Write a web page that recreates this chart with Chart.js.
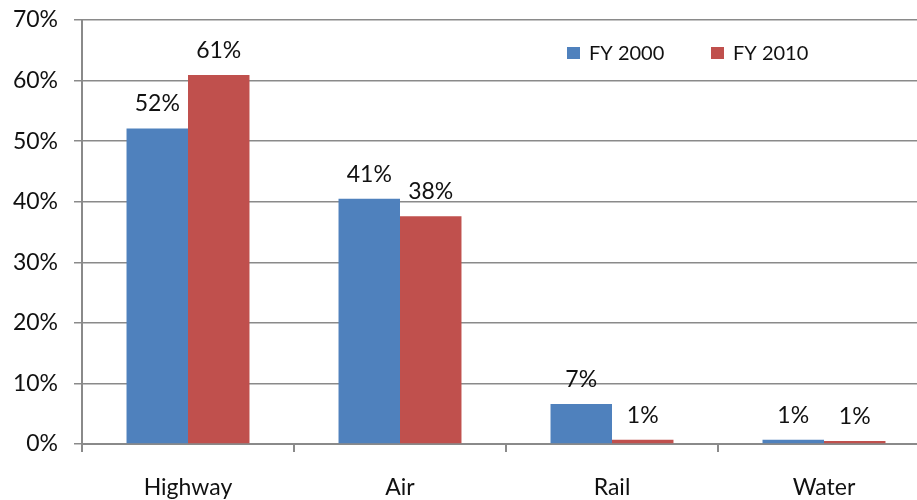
<!DOCTYPE html>
<html>
<head>
<meta charset="utf-8">
<script src="https://cdn.jsdelivr.net/npm/chart.js@4.4.1/dist/chart.umd.min.js"></script>
<style>
  html, body { margin: 0; padding: 0; background: #fff; overflow: hidden; }
  #wrap { width: 930px; height: 500px; position: relative; }
</style>
</head>
<body>
<div id="wrap"><canvas id="c" width="930" height="500"></canvas></div>
<script>
// Share of funding by mode
const categories = ['Highway', 'Air', 'Rail', 'Water'];
const seriesNames = ['FY 2000', 'FY 2010'];
const fy2000 = [52.1, 40.5, 6.6, 0.7];
const fy2010 = [60.9, 37.6, 0.7, 0.5];
const yTicks = [0, 10, 20, 30, 40, 50, 60, 70];

const FONT = 'Lato, "Open Sans", sans-serif';
const GRAY = '#8a8a8a';

// value labels above each bar
const barLabels = {
  id: 'barLabels',
  afterDatasetsDraw(chart) {
    const ctx = chart.ctx;
    ctx.save();
    ctx.font = '23px ' + FONT;
    ctx.fillStyle = '#111';
    ctx.textAlign = 'center';
    ctx.textBaseline = 'alphabetic';
    chart.data.datasets.forEach((ds, i) => {
      chart.getDatasetMeta(i).data.forEach((bar, j) => {
        ctx.fillText(Math.round(ds.data[j]) + '%', bar.x, bar.y - 17);
      });
    });
    ctx.restore();
  }
};

// legend inside the plot area, upper right
const innerLegend = {
  id: 'innerLegend',
  afterDraw(chart) {
    const ctx = chart.ctx;
    const starts = [567, 711];
    const cy = 53;
    ctx.save();
    ctx.font = '20px ' + FONT;
    ctx.textBaseline = 'middle';
    ctx.textAlign = 'left';
    chart.data.datasets.forEach((ds, i) => {
      const x = starts[i];
      ctx.fillStyle = ds.backgroundColor;
      ctx.fillRect(x, cy - 6, 13, 12);
      ctx.fillStyle = '#111';
      ctx.fillText(ds.label, x + 22, cy + 1);
    });
    ctx.restore();
  }
};

new Chart(document.getElementById('c'), {
  type: 'bar',
  data: {
    labels: categories,
    datasets: [
      { label: seriesNames[0], data: fy2000, backgroundColor: '#4F81BD' },
      { label: seriesNames[1], data: fy2010, backgroundColor: '#C0504D' }
    ]
  },
  options: {
    responsive: false,
    animation: false,
    devicePixelRatio: 1,
    layout: { padding: { top: 20, right: 0, left: 0, bottom: 0 } },
    datasets: { bar: { categoryPercentage: 0.58, barPercentage: 1.0, borderWidth: 0 } },
    plugins: { legend: { display: false }, tooltip: { enabled: false } },
    scales: {
      x: {
        grid: { offset: true, drawOnChartArea: false, drawTicks: true, tickLength: 8, color: GRAY, lineWidth: 2 },
        border: { color: GRAY, width: 2 },
        ticks: { font: { family: FONT, size: 23 }, color: '#111', padding: 22 },
        afterFit(scale) { scale.height = 56; scale.paddingLeft = 0; scale.paddingRight = 0; }
      },
      y: {
        min: 0,
        max: 70,
        afterBuildTicks(scale) { scale.ticks = yTicks.map(v => ({ value: v })); },
        grid: { color: GRAY, lineWidth: 1.5, tickLength: 8 },
        border: { color: GRAY, width: 2 },
        ticks: { font: { family: FONT, size: 23 }, color: '#111', padding: 16, callback: v => v + '%' },
        afterFit(scale) { scale.width = 82; scale.paddingTop = 0; scale.paddingBottom = 0; }
      }
    }
  },
  plugins: [barLabels, innerLegend]
});
</script>
</body>
</html>
